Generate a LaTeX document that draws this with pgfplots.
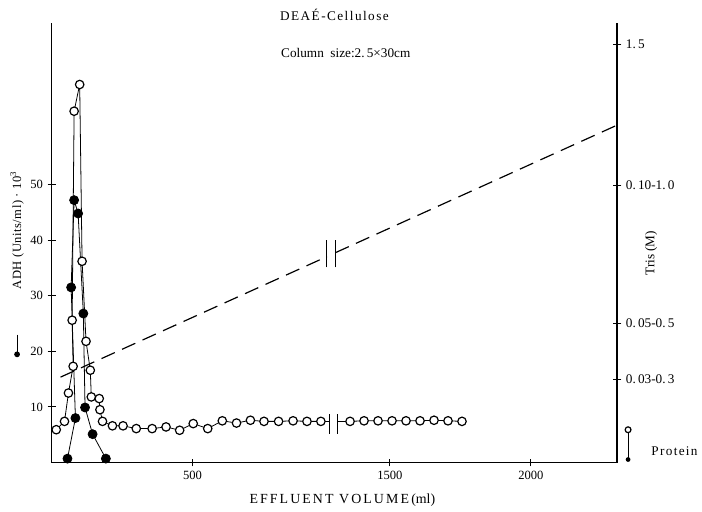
\documentclass[border=0pt]{standalone}
\usepackage{fontspec}
\setmainfont{Liberation Serif}
\usepackage{pgfplots}
\pgfplotsset{compat=1.18}

% x is in ml up to the axis break near 1000 ml; ticks right of it are relabelled
\pgfplotsset{
  base/.style={
    scale only axis, width=427.5pt, height=332.25pt,
    xmin=0, xmax=2006.4, ymin=0, ymax=79.1,
    clip=false,
    tick align=outside, major tick length=6pt,
    tick style={line width=0.8pt, black},
    /pgf/number format/assume math mode=true,
  },
  nolinearrows/.style={
    axis line style={-, line width=1.3pt},
    every outer x axis line/.append style={-},
    every outer y axis line/.append style={-},
  },
}

\begin{document}
\begin{tikzpicture}
\begin{axis}[base,
  axis x line=bottom, axis y line=left,
  xtick={500,1200,1700}, xticklabels={500,1500,2000},
  ytick={10,20,30,40,50},
  tick label style={font=\fontsize{9.5}{11}\selectfont},
  xlabel={{\addfontfeature{LetterSpace=15}EFFLUENT VOLUME}\,(ml)},
  xlabel style={at={(axis description cs:0.514,-0.086)}, anchor=center,
    font=\fontsize{10.5}{12}\selectfont},
  ylabel={ADH (Units/ml) · 10\textsuperscript{3}},
  ylabel style={at={(axis description cs:-0.061,0.528)}, anchor=center,
    font=\fontsize{9.5}{11}\selectfont\addfontfeature{LetterSpace=4}},
  nolinearrows,
]
% page extent
\path (axis description cs:-0.0912,-0.1061) rectangle (axis description cs:1.1404,1.0519);

% Tris gradient (dashed), broken at the axis break
\addplot[black, line width=0.9pt, dash pattern=on 11pt off 6pt] coordinates {(31.7,15.36) (976.8,37.05)};
\addplot[black, line width=0.9pt, dash pattern=on 11pt off 6pt] coordinates {(1006.7,37.75) (1999.4,60.55)};
\addplot[black, line width=0.8pt] coordinates {(976.1,35.1) (976.1,40.0)};
\addplot[black, line width=0.8pt] coordinates {(1007.8,35.1) (1007.8,40.0)};

% protein: line pieces up to the break marks
\addplot[black, line width=0.6pt] coordinates {(955.0,7.4) (984.5,7.4)};
\addplot[black, line width=0.6pt] coordinates {(1013.8,7.4) (1058.5,7.4)};
\addplot[black, line width=0.8pt] coordinates {(984.5,5.2) (984.5,8.8)};
\addplot[black, line width=0.8pt] coordinates {(1013.8,5.2) (1013.8,8.8)};

% protein (open circles)
\addplot[black, line width=0.6pt, mark=*, mark size=3.2pt,
  mark options={fill=white, draw=black, line width=0.9pt}] coordinates {
  (16.5,5.9) (45.8,7.4) (59.8,12.5) (76.4,17.3) (72.9,25.6) (79.9,63.2)
  (99.6,68.0) (108.1,36.2) (122.1,21.8) (137.3,16.6) (140.8,11.8)
  (169.0,11.5) (171.4,9.5) (180.6,7.4)
  (215.8,6.6) (253.4,6.6) (300.3,6.1) (356.6,6.1) (405.9,6.4) (454.1,5.8)
  (502.3,7.0) (553.7,6.1) (605.4,7.5) (655.8,7.1) (705.1,7.6) (753.3,7.4)
  (805.0,7.4) (856.4,7.5) (905.7,7.4) (955.0,7.4)
};
\addplot[black, line width=0.6pt, mark=*, mark size=3.2pt,
  mark options={fill=white, draw=black, line width=0.9pt}] coordinates {
  (1058.5,7.4) (1108.1,7.5) (1157.7,7.5) (1207.4,7.5) (1257.0,7.5)
  (1306.6,7.5) (1356.3,7.6) (1405.9,7.5) (1455.5,7.4)
};

% ADH (filled circles)
\addplot[black, line width=0.6pt, mark=*, mark size=3.4pt] coordinates {
  (56.3,0.7) (84.5,8.0) (69.3,31.5) (79.9,47.2) (94.0,44.8)
  (112.6,26.8) (118.6,9.9) (145.4,5.1) (192.5,0.7)
};

% texts around the frame
\node[font=\fontsize{10}{12}\selectfont\addfontfeature{LetterSpace=11}]
  at (axis description cs:0.5,1.018) {DEAÉ-Cellulose};
\node[font=\fontsize{10}{12}\selectfont]
  at (axis description cs:0.52,0.932) {Column\ \ size:2.\,5×30cm};
\node[rotate=90, font=\fontsize{10}{12}\selectfont]
  at (axis description cs:1.06,0.476) {Tris (M)};

% ADH key beside the left label
\draw[line width=0.8pt] (axis description cs:-0.061,0.291) -- (axis description cs:-0.061,0.246);
\fill (axis description cs:-0.061,0.246) circle (2.2pt);

% protein key
\draw[line width=0.8pt] (axis description cs:1.019,0.0745) -- (axis description cs:1.019,0.0068);
\draw[line width=0.9pt, fill=white] (axis description cs:1.019,0.0745) circle (2.2pt);
\fill (axis description cs:1.019,0.0068) circle (1.8pt);
\node[anchor=west, font=\fontsize{10}{12}\selectfont\addfontfeature{LetterSpace=10}]
  at (axis description cs:1.052,0.025) {Protein};
\end{axis}

\begin{axis}[base,
  axis x line=none, axis y line=right,
  ytick={15,25,49.8,75.2},
  yticklabels={0.\,03-0.\,3, 0.\,05-0.\,5, 0.\,10-1.\,0, 1.\,5},
  yticklabel style={font=\fontsize{10}{12}\selectfont},
  nolinearrows,
]
\end{axis}
\end{tikzpicture}
\end{document}
